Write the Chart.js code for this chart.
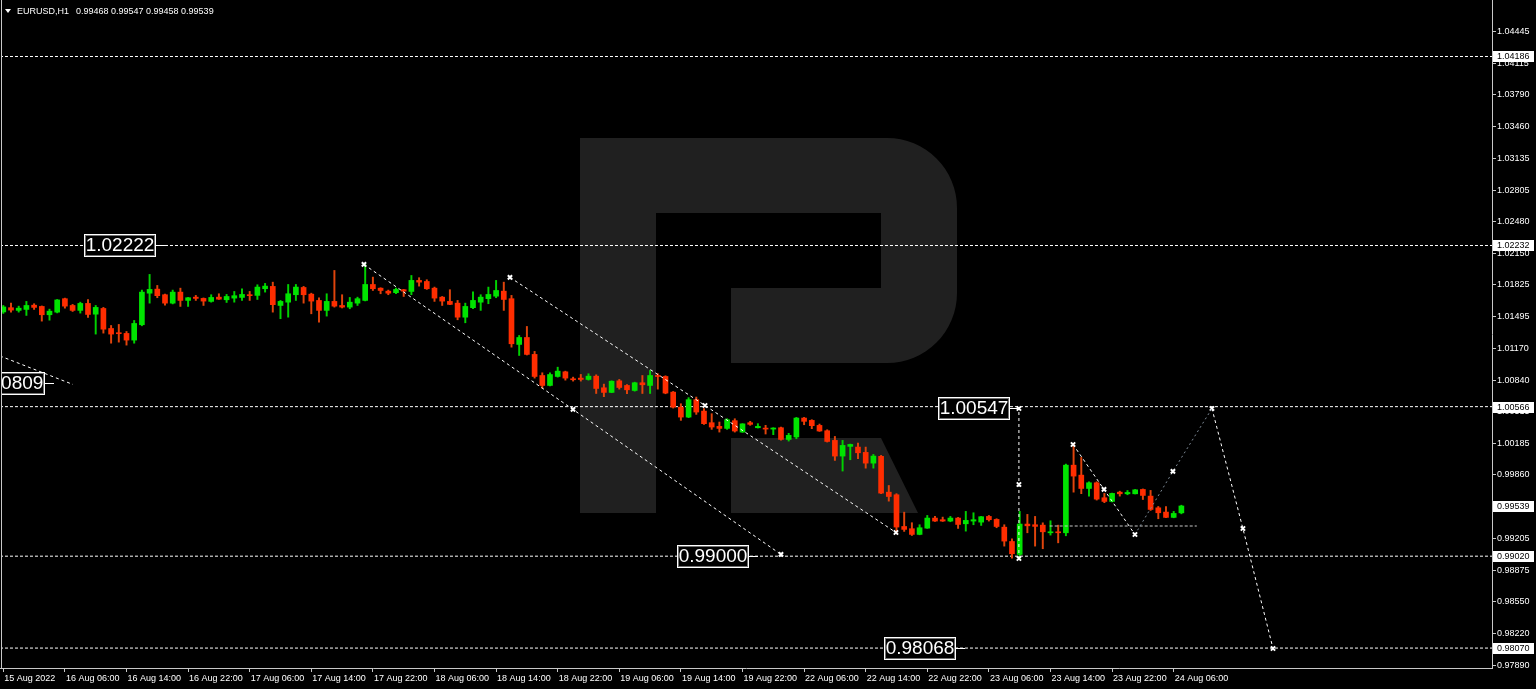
<!DOCTYPE html>
<html lang="en">
<head>
  <meta charset="UTF-8">
  <title>EURUSD,H1</title>
  <style>
    html, body { margin: 0; padding: 0; background: #000; }
    #chart { display: block; }
  </style>
  <script src="https://cdn.jsdelivr.net/npm/chart.js"></script>
</head>
<body>
  <canvas id="chart" width="1536" height="689"></canvas>
  <script>
    // EURUSD H1 candles, bar 0 = 15 Aug 22:00 ... bar 153 = 24 Aug 07:00 (weekend skipped)
    const opens = [
      1.01545, 1.01589, 1.01561, 1.01571, 1.01615, 1.01602, 1.01516, 1.01543, 1.01682, 1.01612,
      1.01561, 1.01633, 1.01522, 1.01581, 1.01374, 1.01330, 1.01323, 1.01254, 1.01413, 1.01739,
      1.01781, 1.01723, 1.01636, 1.01750, 1.01664, 1.01698, 1.01685, 1.01654, 1.01698, 1.01671,
      1.01688, 1.01695, 1.01723, 1.01716, 1.01785, 1.01809, 1.01612, 1.01646, 1.01723, 1.01798,
      1.01729, 1.01664, 1.01561, 1.01654, 1.01612, 1.01595, 1.01636, 1.01664, 1.01829, 1.01791,
      1.01760, 1.01744, 1.01775, 1.01757, 1.01871, 1.01860, 1.01791, 1.01698, 1.01654, 1.01636,
      1.01491, 1.01589, 1.01646, 1.01682, 1.01708, 1.01760, 1.01682, 1.01209, 1.01281, 1.01106,
      1.00888, 1.00785, 1.00878, 1.00926, 1.00854, 1.00861, 1.00847, 1.00881, 1.00761, 1.00713,
      1.00833, 1.00785, 1.00733, 1.00813, 1.00785, 1.00888, 1.00878, 1.00716, 1.00561, 1.00458,
      1.00638, 1.00520, 1.00400, 1.00362, 1.00341, 1.00421, 1.00303, 1.00400, 1.00348, 1.00343,
      1.00334, 1.00348, 1.00227, 1.00252, 1.00448, 1.00424, 1.00372, 1.00317, 1.00217, 1.00055,
      1.00155, 1.00148, 1.00093, 0.99982, 1.00052, 0.99682, 0.99655, 0.99327, 0.99304, 0.99245,
      0.99310, 0.99414, 0.99397, 0.99383, 0.99414, 0.99355, 0.99383, 0.99372, 0.99431, 0.99400,
      0.99320, 0.99172, 0.99038, 0.99352, 0.99345, 0.99341, 0.99262, 0.99269, 0.99262, 0.99961,
      0.99858, 0.99720, 0.99779, 0.99624, 0.99586, 0.99682, 0.99665, 0.99665, 0.99710, 0.99641,
      0.99520, 0.99476, 0.99421, 0.99468
    ];
    const highs = [
      1.01612, 1.01636, 1.01605, 1.01654, 1.01630, 1.01607, 1.01574, 1.01674, 1.01688, 1.01623,
      1.01646, 1.01674, 1.01612, 1.01592, 1.01405, 1.01416, 1.01343, 1.01457, 1.01771, 1.01933,
      1.01819, 1.01729, 1.01771, 1.01791, 1.01695, 1.01716, 1.01690, 1.01723, 1.01733, 1.01726,
      1.01757, 1.01785, 1.01757, 1.01826, 1.01840, 1.01853, 1.01664, 1.01829, 1.01829, 1.01809,
      1.01739, 1.01692, 1.01733, 1.01974, 1.01723, 1.01695, 1.01698, 1.02036, 1.01905, 1.01795,
      1.01771, 1.01791, 1.01778, 1.01922, 1.01899, 1.01878, 1.01802, 1.01705, 1.01775, 1.01664,
      1.01636, 1.01754, 1.01723, 1.01802, 1.01871, 1.01853, 1.01716, 1.01302, 1.01395, 1.01137,
      1.00916, 1.00916, 1.00974, 1.00933, 1.00871, 1.00899, 1.00906, 1.00895, 1.00799, 1.00833,
      1.00847, 1.00795, 1.00819, 1.00888, 1.00940, 1.00906, 1.00885, 1.00723, 1.00596, 1.00659,
      1.00665, 1.00545, 1.00493, 1.00407, 1.00441, 1.00441, 1.00390, 1.00414, 1.00390, 1.00373,
      1.00348, 1.00355, 1.00290, 1.00455, 1.00455, 1.00431, 1.00386, 1.00327, 1.00258, 1.00217,
      1.00179, 1.00190, 1.00148, 1.00072, 1.00062, 0.99751, 0.99666, 0.99475, 0.99366, 0.99345,
      0.99441, 0.99431, 0.99424, 0.99431, 0.99421, 0.99483, 0.99469, 0.99431, 0.99441, 0.99407,
      0.99345, 0.99200, 0.99483, 0.99452, 0.99431, 0.99365, 0.99386, 0.99341, 0.99972, 1.00185,
      1.00041, 0.99789, 0.99789, 0.99669, 0.99672, 0.99692, 0.99699, 0.99710, 0.99715, 0.99700,
      0.99534, 0.99534, 0.99483, 0.99547
    ];
    const lows = [
      1.01530, 1.01543, 1.01543, 1.01509, 1.01571, 1.01450, 1.01460, 1.01535, 1.01584, 1.01550,
      1.01533, 1.01488, 1.01316, 1.01326, 1.01222, 1.01233, 1.01202, 1.01222, 1.01402, 1.01636,
      1.01692, 1.01615, 1.01628, 1.01602, 1.01602, 1.01664, 1.01612, 1.01646, 1.01674, 1.01643,
      1.01646, 1.01664, 1.01664, 1.01674, 1.01750, 1.01543, 1.01475, 1.01491, 1.01664, 1.01636,
      1.01526, 1.01440, 1.01502, 1.01595, 1.01586, 1.01578, 1.01612, 1.01659, 1.01767, 1.01733,
      1.01723, 1.01733, 1.01705, 1.01723, 1.01812, 1.01778, 1.01654, 1.01612, 1.01620, 1.01464,
      1.01433, 1.01578, 1.01561, 1.01630, 1.01692, 1.01561, 1.01181, 1.01095, 1.01100, 1.00861,
      1.00757, 1.00779, 1.00871, 1.00840, 1.00830, 1.00830, 1.00840, 1.00702, 1.00669, 1.00710,
      1.00747, 1.00699, 1.00726, 1.00702, 1.00702, 1.00747, 1.00699, 1.00551, 1.00424, 1.00452,
      1.00486, 1.00383, 1.00331, 1.00303, 1.00331, 1.00303, 1.00300, 1.00373, 1.00345, 1.00283,
      1.00276, 1.00220, 1.00210, 1.00234, 1.00379, 1.00338, 1.00310, 1.00200, 1.00010, 0.99900,
      1.00017, 1.00027, 0.99930, 0.99930, 0.99666, 0.99589, 0.99252, 0.99276, 0.99234, 0.99241,
      0.99307, 0.99379, 0.99379, 0.99376, 0.99307, 0.99279, 0.99345, 0.99338, 0.99383, 0.99314,
      0.99124, 0.98999, 0.98993, 0.99262, 0.99124, 0.99097, 0.99238, 0.99158, 0.99231, 0.99682,
      0.99666, 0.99641, 0.99600, 0.99573, 0.99581, 0.99641, 0.99655, 0.99663, 0.99606, 0.99493,
      0.99407, 0.99417, 0.99417, 0.99458
    ];
    const closes = [
      1.01597, 1.01564, 1.01584, 1.01612, 1.01592, 1.01516, 1.01553, 1.01669, 1.01605, 1.01561,
      1.01633, 1.01519, 1.01592, 1.01367, 1.01316, 1.01320, 1.01254, 1.01426, 1.01750, 1.01778,
      1.01713, 1.01636, 1.01750, 1.01664, 1.01692, 1.01685, 1.01657, 1.01695, 1.01677, 1.01705,
      1.01713, 1.01726, 1.01713, 1.01802, 1.01812, 1.01620, 1.01654, 1.01733, 1.01802, 1.01723,
      1.01657, 1.01561, 1.01654, 1.01605, 1.01595, 1.01646, 1.01682, 1.01829, 1.01785, 1.01767,
      1.01739, 1.01778, 1.01760, 1.01871, 1.01853, 1.01785, 1.01688, 1.01657, 1.01623, 1.01491,
      1.01602, 1.01664, 1.01698, 1.01726, 1.01767, 1.01674, 1.01216, 1.01281, 1.01106, 1.00878,
      1.00785, 1.00898, 1.00933, 1.00861, 1.00844, 1.00847, 1.00881, 1.00754, 1.00713, 1.00829,
      1.00764, 1.00740, 1.00813, 1.00792, 1.00888, 1.00878, 1.00706, 1.00561, 1.00458, 1.00638,
      1.00510, 1.00390, 1.00355, 1.00341, 1.00431, 1.00314, 1.00388, 1.00383, 1.00362, 1.00334,
      1.00345, 1.00227, 1.00269, 1.00448, 1.00414, 1.00369, 1.00314, 1.00206, 1.00055, 1.00165,
      1.00175, 1.00089, 0.99982, 1.00055, 0.99672, 0.99637, 0.99321, 0.99297, 0.99245, 0.99314,
      0.99414, 0.99383, 0.99383, 0.99414, 0.99348, 0.99390, 0.99397, 0.99428, 0.99397, 0.99327,
      0.99176, 0.99045, 0.99352, 0.99334, 0.99328, 0.99272, 0.99269, 0.99262, 0.99961, 0.99848,
      0.99720, 0.99779, 0.99610, 0.99586, 0.99669, 0.99665, 0.99679, 0.99706, 0.99648, 0.99503,
      0.99469, 0.99421, 0.99462, 0.99539
    ];

    // time axis labels (bar index of each label)
    const xTickIndex = [0, 8, 16, 24, 32, 40, 48, 56, 64, 72, 80, 88, 96, 104, 112, 120, 128, 136, 144, 152];
    const xTickLabels = ['15 Aug 2022', '16 Aug 06:00', '16 Aug 14:00', '16 Aug 22:00', '17 Aug 06:00',
      '17 Aug 14:00', '17 Aug 22:00', '18 Aug 06:00', '18 Aug 14:00', '18 Aug 22:00', '19 Aug 06:00',
      '19 Aug 14:00', '19 Aug 22:00', '22 Aug 06:00', '22 Aug 14:00', '22 Aug 22:00', '23 Aug 06:00',
      '23 Aug 14:00', '23 Aug 22:00', '24 Aug 06:00'];
    // price axis labels
    const yTickValues = [1.04445, 1.04115, 1.03790, 1.03460, 1.03135, 1.02805, 1.02480, 1.02150, 1.01825,
      1.01495, 1.01170, 1.00840, 1.00515, 1.00185, 0.99860, 0.99530, 0.99205, 0.98875, 0.98550, 0.98220, 0.97890];

    // horizontal levels and their price tags on the axis
    const levels = [1.04186, 1.02232, 1.00566, 0.99020, 0.98070];
    const bidPrice = 0.99539;

    // forecast paths [bar, price]
    const pathA = [[-0.43, 1.01090], [9.05, 1.00795]];
    const pathB = [[46.84, 1.02036], [73.99, 1.00537], [101.0, 0.99038]];
    const pathC = [[65.8, 1.01902], [91.13, 1.00578], [115.93, 0.99265]];
    const pathD = [[130.8, 1.00547], [131.9, 1.00547], [131.9, 0.99761], [131.9, 0.98996]];
    const pathE = [[138.93, 1.00175], [142.95, 0.99710], [146.97, 0.99244]];
    const pathF = [[146.97, 0.99244], [151.9, 0.99896], [156.97, 1.00547]];
    const pathG = [[156.97, 1.00547], [160.99, 0.99306], [164.9, 0.98066]];
    const pathH = [[135.9, 0.99332], [155.0, 0.99332]];

    // boxed price notes
    const noteText = ['1.02222', '0.99000', '1.00547', '0.98068', '1.00809'];
    const noteBar = [10.48, 87.5, 121.4, 114.4, -3.95];
    const notePrice = [1.02232, 0.99020, 1.00547, 0.98070, 1.00812];

    const GREEN = '#00e400', RED = '#ff2d00';
    const bodyColors = opens.map((o, i) => closes[i] >= o ? GREEN : RED);
    const wickColors = opens.map((o, i) => closes[i] >= o ? '#00d200' : '#e0440c');

    const toPts = p => p.map(q => ({ x: q[0], y: q[1] }));

    function pathSet(p, color, markers, dash) {
      return {
        type: 'line',
        data: toPts(p),
        borderColor: color,
        borderWidth: 1,
        borderDash: dash || [3, 3],
        pointStyle: 'crossRot',
        pointRadius: markers,
        pointBorderColor: '#ffffff',
        pointBorderWidth: 2,
        pointBackgroundColor: '#ffffff',
        fill: false,
        tension: 0,
        order: 0
      };
    }

    const levelSets = levels.map(v => ({
      type: 'line',
      data: [{ x: -0.43, y: v }, { x: 193.4, y: v }],
      borderColor: '#ffffff',
      borderWidth: 1,
      borderDash: [3, 2],
      pointRadius: 0,
      fill: false,
      order: 4
    }));

    // no extra room for half labels at the ends of the axes
    function noPadding(s) {
      s.paddingTop = 0;
      s.paddingBottom = 0;
      s.paddingLeft = 0;
      s.paddingRight = 0;
    }

    // R logo behind the candles
    const watermark = {
      id: 'watermark',
      beforeDatasetsDraw(chart) {
        const c = chart.ctx;
        c.save();
        c.fillStyle = '#202020';
        c.beginPath();
        c.moveTo(580, 138);
        c.lineTo(887, 138);
        c.arcTo(957, 138, 957, 208, 70);
        c.lineTo(957, 293);
        c.arcTo(957, 363, 887, 363, 70);
        c.lineTo(731, 363);
        c.lineTo(731, 288);
        c.lineTo(881, 288);
        c.lineTo(881, 213);
        c.lineTo(656, 213);
        c.lineTo(656, 513);
        c.lineTo(580, 513);
        c.closePath();
        c.moveTo(731, 438);
        c.lineTo(881, 438);
        c.lineTo(918, 513);
        c.lineTo(731, 513);
        c.closePath();
        c.fill();
        c.restore();
      }
    };

    const notes = {
      id: 'notes',
      afterDatasetsDraw(chart) {
        const c = chart.ctx, xs = chart.scales.x, ys = chart.scales.y;
        c.save();
        noteText.forEach((t, i) => {
          const x = Math.round(xs.getPixelForValue(noteBar[i]));
          const y = Math.round(ys.getPixelForValue(notePrice[i]));
          const w = 72, h = 23, top = y - 11;
          c.fillStyle = '#000';
          c.fillRect(x, top, w, h);
          c.lineWidth = 1;
          c.strokeStyle = '#ffffff';
          c.strokeRect(x + 0.5, top + 0.5, w - 1, h - 1);
          c.strokeStyle = '#707070';
          c.strokeRect(x + 1.5, top + 1.5, w - 3, h - 3);
          c.strokeStyle = '#ffffff';
          c.beginPath();
          c.moveTo(x + w, y + 0.5);
          c.lineTo(x + w + 9, y + 0.5);
          c.stroke();
          c.fillStyle = '#ffffff';
          c.font = '19px "Liberation Sans"';
          c.textAlign = 'center';
          c.textBaseline = 'middle';
          c.fillText(t, x + w / 2, y + 1);
        });
        c.restore();
      },
      afterDraw(chart) {
        const c = chart.ctx, ys = chart.scales.y, a = chart.chartArea;
        c.save();
        // frame
        c.fillStyle = '#000';
        c.fillRect(0, a.top, 1, a.bottom - a.top);
        c.strokeStyle = '#c8c8c8';
        c.lineWidth = 1;
        c.beginPath();
        c.moveTo(1.5, a.top);
        c.lineTo(1.5, a.bottom);
        c.stroke();
        // price tags on the axis
        c.font = '9px "Liberation Sans"';
        c.textAlign = 'left';
        c.textBaseline = 'middle';
        levels.concat([bidPrice]).forEach(v => {
          const y = Math.round(ys.getPixelForValue(v));
          c.fillStyle = '#ffffff';
          c.fillRect(a.right + 1, y - 5, 41, 11);
          c.fillStyle = '#000000';
          c.fillText(v.toFixed(5), a.right + 5, y + 0.5);
        });
        // header
        c.fillStyle = '#ffffff';
        c.beginPath();
        c.moveTo(5, 9);
        c.lineTo(11, 9);
        c.lineTo(8, 13);
        c.closePath();
        c.fill();
        c.textBaseline = 'alphabetic';
        c.fillText('EURUSD,H1', 17, 14);
        c.fillText(opens[153].toFixed(5) + ' ' + highs[153].toFixed(5) + ' ' +
          lows[153].toFixed(5) + ' ' + closes[153].toFixed(5), 76, 14);
        c.restore();
      }
    };

    new Chart(document.getElementById('chart'), {
      type: 'bar',
      data: {
        datasets: [
          pathSet(pathA, '#ffffff', [0, 0]),
          pathSet(pathB, '#ffffff', [3, 3, 3]),
          pathSet(pathC, '#ffffff', [3, 3, 3]),
          pathSet(pathD, '#ffffff', [0, 3, 3, 3]),
          pathSet(pathE, '#ffffff', [3, 3, 3]),
          pathSet(pathF, '#7c8894', [0, 3, 0], [2, 3]),
          pathSet(pathG, '#ffffff', [3, 3, 3]),
          pathSet(pathH, '#c8c8c8', [0, 0], [3, 2]),
          {
            type: 'bar',
            data: opens.map((o, i) => ({ x: i, y: [o, closes[i]] })),
            backgroundColor: bodyColors,
            borderWidth: 0,
            barThickness: 5,
            minBarLength: 1,
            grouped: false,
            order: 2
          },
          {
            type: 'bar',
            data: lows.map((l, i) => ({ x: i, y: [l, highs[i]] })),
            backgroundColor: wickColors,
            borderWidth: 0,
            barThickness: 1.3,
            grouped: false,
            order: 3
          },
          ...levelSets
        ]
      },
      options: {
        responsive: false,
        animation: false,
        layout: { padding: 0, autoPadding: false },
        plugins: { legend: { display: false }, tooltip: { enabled: false } },
        scales: {
          x: {
            type: 'linear',
            min: -0.4286,
            max: 193.34,
            offset: false,
            grid: { display: true, drawOnChartArea: false, drawTicks: true, tickLength: 4, color: '#c8c8c8', offset: false },
            border: { display: true, color: '#c8c8c8' },
            ticks: {
              autoSkip: false, maxRotation: 0, minRotation: 0, align: 'start', labelOffset: 1, padding: 1,
              color: '#ffffff', font: { family: 'Liberation Sans', size: 9 },
              callback: (v, i) => xTickLabels[i]
            },
            afterBuildTicks: s => { s.ticks = xTickIndex.map(v => ({ value: v })); },
            afterFit: s => { s.height = 21; noPadding(s); }
          },
          y: {
            type: 'linear',
            position: 'right',
            min: 0.97864,
            max: 1.04770,
            grid: { display: true, drawOnChartArea: false, drawTicks: true, tickLength: 4, color: '#c8c8c8' },
            border: { display: true, color: '#c8c8c8' },
            ticks: {
              autoSkip: false, padding: 1, color: '#ffffff',
              font: { family: 'Liberation Sans', size: 9 },
              callback: v => v.toFixed(5)
            },
            afterBuildTicks: s => { s.ticks = yTickValues.map(v => ({ value: v })); },
            afterFit: s => { s.width = 44; noPadding(s); }
          }
        }
      },
      plugins: [watermark, notes]
    });
  </script>
</body>
</html>
